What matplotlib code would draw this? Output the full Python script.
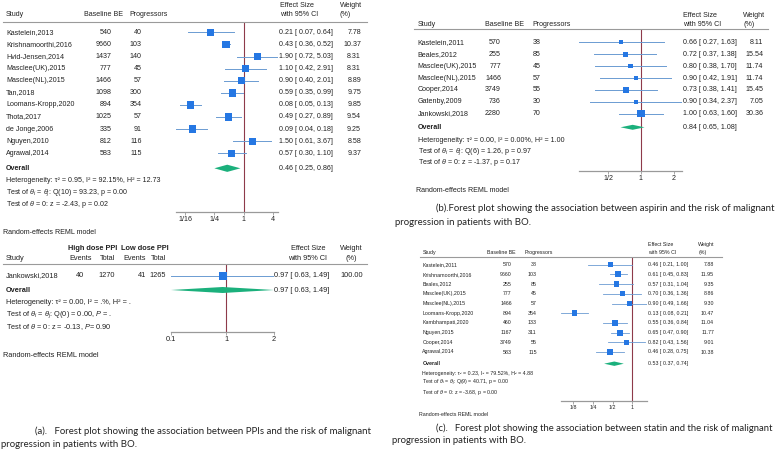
### Forest plots: PPIs, aspirin and statin vs malignant progression in BO

import numpy as np
import matplotlib.pyplot as plt
from matplotlib.lines import Line2D

plt.rcParams['font.family'] = ['Liberation Sans', 'DejaVu Sans']
plt.rcParams['mathtext.fontset'] = 'custom'
plt.rcParams['mathtext.rm'] = 'Liberation Sans'
plt.rcParams['mathtext.it'] = 'Liberation Sans:italic'
plt.rcParams['mathtext.bf'] = 'Liberation Sans:bold'

# (a) PPIs
studies_a = ['Kastelein,2013', 'Krishnamoorthi,2016', 'Hvid-Jensen,2014', 'Masclee(UK),2015',
             'Masclee(NL),2015', 'Tan,2018', 'Loomans-Kropp,2020', 'Thota,2017',
             'de Jonge,2006', 'Nguyen,2010', 'Agrawal,2014']
be_a = [540, 9660, 1437, 777, 1466, 1098, 894, 1025, 335, 812, 583]
prog_a = [40, 103, 140, 45, 57, 300, 354, 57, 91, 116, 115]
es_a = [0.21, 0.43, 1.90, 1.10, 0.90, 0.59, 0.08, 0.49, 0.09, 1.50, 0.57]
lo_a = [0.07, 0.36, 0.72, 0.42, 0.40, 0.35, 0.05, 0.27, 0.04, 0.61, 0.30]
hi_a = [0.64, 0.52, 5.03, 2.91, 2.01, 0.99, 0.13, 0.89, 0.18, 3.67, 1.10]
w_a = [7.78, 10.37, 8.31, 8.31, 8.89, 9.75, 9.85, 9.54, 9.25, 8.58, 9.37]
overall_a = [0.46, 0.25, 0.86]
stats_a = ['Heterogeneity: τ² = 0.95, I² = 92.15%, H² = 12.73',
           r'Test of $\theta_i$ = $\theta_j$: Q(10) = 93.23, p = 0.00',
           r'Test of $\theta$ = 0: z = -2.43, p = 0.02']
ticks_a = [1/16, 1/4, 1, 4]
ticklab_a = ['1/16', '1/4', '1', '4']

# (a) high vs low dose PPI
study_d = 'Jankowski,2018'
high_ev, high_tot, low_ev, low_tot = 40, 1270, 41, 1265
es_d, lo_d, hi_d, w_d = 0.97, 0.63, 1.49, 100.00
overall_d = [0.97, 0.63, 1.49]
stats_d = ['Heterogeneity: τ² = 0.00, I² = .%, H² = .',
           r'Test of $\theta_i$ = $\theta_j$: Q(0) = 0.00, $P$ = .',
           r'Test of $\theta$ = 0: z = -0.13, $P$= 0.90']
ticklab_d = ['0.1', '1', '2']

# (b) aspirin
studies_b = ['Kastelein,2011', 'Beales,2012', 'Masclee(UK),2015', 'Masclee(NL),2015',
             'Cooper,2014', 'Gatenby,2009', 'Jankowski,2018']
be_b = [570, 255, 777, 1466, 3749, 736, 2280]
prog_b = [38, 85, 45, 57, 55, 30, 70]
es_b = [0.66, 0.72, 0.80, 0.90, 0.73, 0.90, 1.00]
lo_b = [0.27, 0.37, 0.38, 0.42, 0.38, 0.34, 0.63]
hi_b = [1.63, 1.38, 1.70, 1.91, 1.41, 2.37, 1.60]
w_b = [8.11, 15.54, 11.74, 11.74, 15.45, 7.05, 30.36]
overall_b = [0.84, 0.65, 1.08]
stats_b = ['Heterogeneity: τ² = 0.00, I² = 0.00%, H² = 1.00',
           r'Test of $\theta_i$ = $\theta_j$: Q(6) = 1.26, p = 0.97',
           r'Test of $\theta$ = 0: z = -1.37, p = 0.17']
ticks_b = [1/2, 1, 2]
ticklab_b = ['1/2', '1', '2']

# (c) statin
studies_c = ['Kastelein,2011', 'Krishnamoorthi,2016', 'Beales,2012', 'Masclee(UK),2015',
             'Masclee(NL),2015', 'Loomans-Kropp,2020', 'Kambhampati,2020', 'Nguyen,2015',
             'Cooper,2014', 'Agrawal,2014']
be_c = [570, 9660, 255, 777, 1466, 894, 460, 1167, 3749, 583]
prog_c = [38, 103, 85, 45, 57, 354, 133, 311, 55, 115]
es_c = [0.46, 0.61, 0.57, 0.70, 0.90, 0.13, 0.55, 0.65, 0.82, 0.46]
lo_c = [0.21, 0.45, 0.31, 0.36, 0.49, 0.08, 0.36, 0.47, 0.43, 0.28]
hi_c = [1.00, 0.83, 1.04, 1.36, 1.66, 0.21, 0.84, 0.90, 1.56, 0.75]
w_c = [7.88, 11.95, 9.35, 8.86, 9.30, 10.47, 11.04, 11.77, 9.01, 10.38]
overall_c = [0.53, 0.37, 0.74]
stats_c = ['Heterogeneity: τ² = 0.23, I² = 79.52%, H² = 4.88',
           r'Test of $\theta_i$ = $\theta_j$: Q(9) = 40.71, p = 0.00',
           r'Test of $\theta$ = 0: z = -3.68, p = 0.00']
ticks_c = [1/8, 1/4, 1/2, 1]
ticklab_c = ['1/8', '1/4', '1/2', '1']

cap_a = ['(a).   Forest plot showing the association between PPIs and the risk of malignant',
         'progression in patients with BO.']
cap_b = ['(b).Forest plot showing the association between aspirin and the risk of malignant',
         'progression in patients with BO.']
cap_c = ['(c).   Forest plot showing the association between statin and the risk of malignant',
         'progression in patients with BO.']

BLUE = '#2577e3'
CI_COL = '#6b9bd2'
GREEN = '#1bb07c'
REF = '#8e3a4a'
GREY = '#9a9a9a'
TXT = '#222222'

W, H = 776, 450
fig = plt.figure(figsize=(W/100, H/100), dpi=100)


def fx(x):
    return x / W


def fy(y):
    return 1 - y / H


def txt(x, y, s, size, ha='left', bold=False, family=None):
    kw = {}
    if family:
        kw['family'] = family
    fig.text(fx(x), fy(y), s, fontsize=size, ha=ha, va='center', color=TXT,
             fontweight='bold' if bold else 'normal', **kw)


def hline(x0, x1, y):
    fig.add_artist(Line2D([fx(x0), fx(x1)], [fy(y), fy(y)], color=GREY, lw=0.8))


def ci_text(e, l, h):
    return f'{e:.2f} [ {l:.2f}, {h:.2f}]'


def forest_ax(x0, x1, y0, y1, xlim, ticks, labels, fs):
    ax = fig.add_axes([fx(x0), fy(y1), (x1 - x0) / W, (y1 - y0) / H])
    ax.set_xscale('log')
    ax.set_xlim(xlim)
    ax.set_ylim(y1, y0)
    for s in ['top', 'left', 'right']:
        ax.spines[s].set_visible(False)
    ax.spines['bottom'].set_color(GREY)
    ax.spines['bottom'].set_linewidth(0.9)
    ax.set_yticks([])
    ax.minorticks_off()
    ax.set_xticks(ticks)
    ax.set_xticklabels(labels)
    ax.tick_params(axis='x', length=2, width=0.6, color=GREY, pad=1, labelsize=fs,
                   labelcolor=TXT)
    ax.axvline(1, color=REF, lw=0.8, zorder=1)
    ax.patch.set_alpha(0)
    return ax


def draw_rows(ax, ys, es, lo, hi, w, k, lw=0.7):
    for y, e, l, h in zip(ys, es, lo, hi):
        ax.plot([l, h], [y, y], color=CI_COL, lw=lw, zorder=2)
    ax.scatter(es, ys, marker='s', s=[k * v for v in w], color=BLUE, zorder=3, lw=0)


def diamond(ax, y, ov, hh):
    e, l, h = ov
    ax.fill([l, e, h, e], [y, y - hh, y, y + hh], color=GREEN, lw=0, zorder=3)


# ---------------- panel (a) main ----------------
fs = 5.1
rows = [32.3 + 12.1 * i for i in range(len(studies_a))]
txt(280, 5.7, 'Effect Size', fs)
txt(280, 15, 'with 95% CI', fs)
txt(340, 5.7, 'Weight', fs)
txt(340, 15, '(%)', fs)
txt(6, 15, 'Study', fs)
txt(84, 15, 'Baseline BE', fs)
txt(129, 15, 'Progressors', fs)
hline(3, 367, 22)
for y, s, b, p, e, l, h, w in zip(rows, studies_a, be_a, prog_a, es_a, lo_a, hi_a, w_a):
    txt(6, y, s, fs)
    txt(111.7, y, str(b), fs, ha='right')
    txt(141.7, y, str(p), fs, ha='right')
    txt(279.3, y, ci_text(e, l, h), fs)
    txt(361, y, f'{w:.2f}', fs, ha='right')
txt(6, 168.3, 'Overall', fs, bold=True)
txt(279.3, 168.3, ci_text(*overall_a), fs)
for y, s in zip([180.7, 192.3, 204.3], stats_a):
    txt(6, y, s, fs)
txt(3, 232.7, 'Random-effects REML model', fs)
ax = forest_ax(175.7, 277.7, 22, 211.7, (min(lo_a), max(hi_a)), ticks_a, ticklab_a, fs)
draw_rows(ax, rows, es_a, lo_a, hi_a, w_a, 3.0)
diamond(ax, 168.3, overall_a, 3.6)

# ---------------- panel (a) dose ----------------
fs = 5.3
txt(67.7, 249, 'High dose PPI', fs, bold=True)
txt(121, 249, 'Low dose PPI', fs, bold=True)
txt(6, 258.3, 'Study', fs)
txt(92, 258.3, 'Events', fs, ha='right')
txt(115, 258.3, 'Total', fs, ha='right')
txt(145.7, 258.3, 'Events', fs, ha='right')
txt(165.7, 258.3, 'Total', fs, ha='right')
txt(308, 249, 'Effect Size', fs, ha='center')
txt(308, 258.3, 'with 95% CI', fs, ha='center')
txt(362.7, 249, 'Weight', fs, ha='right')
txt(351, 258.3, '(%)', fs, ha='center')
hline(3, 367, 264)
txt(6, 275.5, study_d, fs)
txt(84.3, 275.5, str(high_ev), fs, ha='right')
txt(115, 275.5, str(high_tot), fs, ha='right')
txt(145.7, 275.5, str(low_ev), fs, ha='right')
txt(165.7, 275.5, str(low_tot), fs, ha='right')
txt(274.3, 275.5, ci_text(es_d, lo_d, hi_d), fs)
txt(362.7, 275.5, f'{w_d:.2f}', fs, ha='right')
txt(6, 290, 'Overall', fs, bold=True)
txt(274.3, 290, ci_text(*overall_d), fs)
for y, s in zip([302.7, 314.7, 326.7], stats_d):
    txt(6, y, s, fs)
txt(3, 355.3, 'Random-effects REML model', fs)
ax = forest_ax(171, 274, 264, 331.7, (lo_d, hi_d), [lo_d, 1, hi_d], ticklab_d, fs)
draw_rows(ax, [275.5], [es_d], [lo_d], [hi_d], [w_d], 0.26)
diamond(ax, 290, overall_d, 3.0)

# ---------------- panel (b) ----------------
fs = 5.1
rows = [42.3 + 11.9 * i for i in range(len(studies_b))]
txt(683.3, 15.7, 'Effect Size', fs)
txt(683.3, 24, 'with 95% CI', fs)
txt(743.3, 15.7, 'Weight', fs)
txt(743.3, 24, '(%)', fs)
txt(417.7, 24, 'Study', fs)
txt(485, 24, 'Baseline BE', fs)
txt(532.7, 24, 'Progressors', fs)
hline(414, 768, 28.5)
for y, s, b, p, e, l, h, w in zip(rows, studies_b, be_b, prog_b, es_b, lo_b, hi_b, w_b):
    txt(417.7, y, s, fs)
    txt(501, y, str(b), fs, ha='right')
    txt(540.7, y, str(p), fs, ha='right')
    txt(683.3, y, ci_text(e, l, h), fs)
    txt(763.3, y, f'{w:.2f}', fs, ha='right')
txt(417.7, 127.3, 'Overall', fs, bold=True)
txt(683.3, 127.3, ci_text(*overall_b), fs)
for y, s in zip([140.3, 151.3, 162.3], stats_b):
    txt(417.7, y, s, fs)
txt(416, 190.7, 'Random-effects REML model', fs)
ax = forest_ax(579, 681.7, 28.5, 170.7, (min(lo_b), max(hi_b)), ticks_b, ticklab_b, fs)
draw_rows(ax, rows, es_b, lo_b, hi_b, w_b, 0.95)
diamond(ax, 127.3, overall_b, 2.5)

# ---------------- panel (c) ----------------
fs = 3.8
rows = [264.7 + 9.7 * i for i in range(len(studies_c))]
txt(648.3, 244, 'Effect Size', fs)
txt(648.3, 252.7, 'with 95% CI', fs)
txt(698.3, 244, 'Weight', fs)
txt(698.3, 252.7, '(%)', fs)
txt(422.3, 252.7, 'Study', fs)
txt(487.3, 252.7, 'Baseline BE', fs)
txt(525, 252.7, 'Progressors', fs)
hline(420, 721.7, 256.7)
for y, s, b, p, e, l, h, w in zip(rows, studies_c, be_c, prog_c, es_c, lo_c, hi_c, w_c):
    txt(422.3, y, s, fs)
    txt(511.7, y, str(b), fs, ha='right')
    txt(536.7, y, str(p), fs, ha='right')
    txt(648.3, y, ci_text(e, l, h), fs)
    txt(714, y, f'{w:.2f}', fs, ha='right')
txt(422.3, 363.7, 'Overall', fs, bold=True)
txt(648.3, 363.7, ci_text(*overall_c), fs)
for y, s in zip([373.3, 383.3, 392.7], stats_c):
    txt(422.3, y, s, fs)
txt(419.3, 415, 'Random-effects REML model', fs)
ax = forest_ax(560.7, 646.7, 256.7, 401, (min(lo_c), max(hi_c)), ticks_c, ticklab_c, fs)
draw_rows(ax, rows, es_c, lo_c, hi_c, w_c, 1.6, lw=0.6)
diamond(ax, 363.7, overall_c, 2.2)

# ---------------- captions ----------------
cf = ['Lato', 'DejaVu Sans']
txt(35.3, 431, cap_a[0], 6.95, family=cf)
txt(1, 444.3, cap_a[1], 6.95, family=cf)
txt(435.7, 208.7, cap_b[0], 6.9, family=cf)
txt(395, 222, cap_b[1], 6.9, family=cf)
txt(435.7, 428.3, cap_c[0], 6.85, family=cf)
txt(392, 440.7, cap_c[1], 6.85, family=cf)

fig.savefig('out.png', dpi=100)
